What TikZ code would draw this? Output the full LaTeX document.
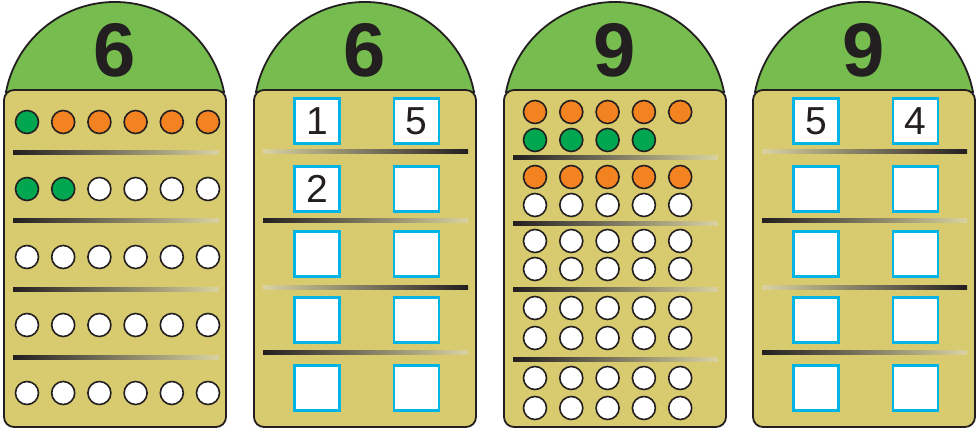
\documentclass[tikz,border=0pt]{standalone}
\usepackage{fontspec}
\setmainfont{Liberation Sans}
\usetikzlibrary{positioning}
\definecolor{cDome}{HTML}{76BC4E}
\definecolor{cCard}{HTML}{D7CA6F}
\definecolor{cOrange}{HTML}{F38220}
\definecolor{cGreen}{HTML}{00A650}
\definecolor{cBox}{HTML}{00B4E6}
\definecolor{cInk}{HTML}{231F20}
\definecolor{cFade}{HTML}{DAD3A0}
\tikzset{
  dome/.style={fill=cDome, draw=cInk, line width=1.8pt},
  card/.style={fill=cCard, draw=cInk, line width=1.8pt, rounded corners=10pt},
  big/.style={font=\bfseries\fontsize{76}{76}\selectfont, text=cInk, inner sep=0pt},
  dot/.style={draw=cInk, line width=1.6pt, fill=#1},
  numbox/.style={draw=cBox, line width=2.2pt, fill=white, minimum size=45pt, inner sep=0pt, font=\fontsize{39}{39}\selectfont, text=cInk},
  barL/.style={left color=cInk, middle color=cInk!55!cFade, right color=cFade},
  barR/.style={left color=cFade, middle color=cInk!55!cFade, right color=cInk},
}

\begin{document}
\begin{tikzpicture}[x=1pt, y=-1pt]
\useasboundingbox (0,0) rectangle (976,430);
% domes, bodies and headline numbers
\foreach \cx/\num/\nm in {115/6/a, 365/6/b, 615/9/c, 864/9/d}{
  \draw[dome] (\cx-109,92) arc[start angle=190.9, end angle=349.1, radius=111] -- cycle;
  \draw[card] (\cx-111,90) rectangle (\cx+111,427);
  \node[big] (n\nm) at (\cx,50) {\num};
}
% separator bars
\foreach \y/\s in {153/barL,221/barL,289/barL,357/barL} \shade[\s] (13,\y-2) rectangle (219,\y+2);
\foreach \y/\s in {152/barR,221/barL,287/barR,352/barL}{
  \shade[\s] (263,\y-2) rectangle (468,\y+2);
  \shade[\s] (762,\y-2) rectangle (967,\y+2);
}
\foreach \y/\s in {158/barL,224/barL,289/barL,359/barL} \shade[\s] (513,\y-2) rectangle (718,\y+2);
% card a: six per row
\foreach \y/\cl in {122/{cGreen,cOrange,cOrange,cOrange,cOrange,cOrange},
  189/{cGreen,cGreen,white,white,white,white},
  257/{white,white,white,white,white,white},
  325/{white,white,white,white,white,white},
  393/{white,white,white,white,white,white}}
  \foreach \c [count=\i from 0] in \cl \draw[dot=\c] (27+36.2*\i,\y) circle[radius=11.5];
% card c: five per row, two rows per band
\foreach \y/\cl in {112/{cOrange,cOrange,cOrange,cOrange,cOrange},
  140/{cGreen,cGreen,cGreen,cGreen},
  177/{cOrange,cOrange,cOrange,cOrange,cOrange},
  205/{white,white,white,white,white},
  241/{white,white,white,white,white}, 269/{white,white,white,white,white},
  308/{white,white,white,white,white}, 338/{white,white,white,white,white},
  378/{white,white,white,white,white}, 408/{white,white,white,white,white}}
  \foreach \c [count=\i from 0] in \cl \draw[dot=\c] (535+36.3*\i,\y) circle[radius=11.5];
% cards b and d: answer boxes
\foreach \y/\r/\p/\q/\u/\v in {121/1/1/5/5/4, 189/2/2//{}/{}, 254/3///{}/{}, 320/4///{}/{}, 388/5///{}/{}}{
  \node[numbox] (b\r l) at (317,\y) {\p};
  \node[numbox] (b\r r) at (416.5,\y) {\q};
  \node[numbox] (d\r l) at (816,\y) {\u};
  \node[numbox] (d\r r) at (915.5,\y) {\v};
}
\end{tikzpicture}
\end{document}
